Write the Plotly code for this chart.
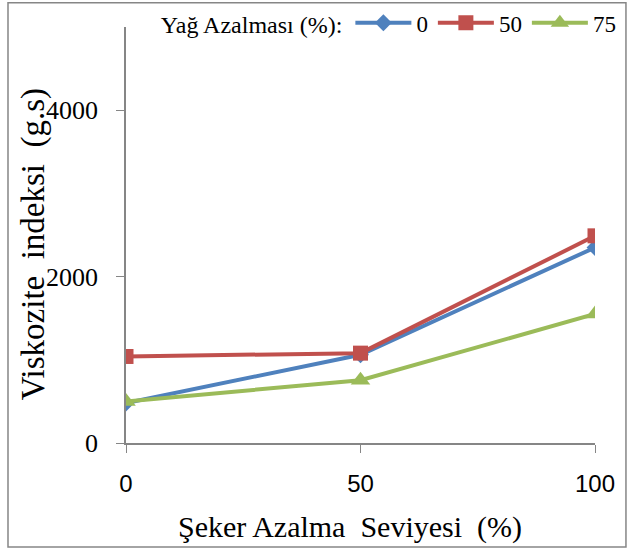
import plotly.graph_objects as go

x_levels = [0, 50, 100]
series_names = ["0", "50", "75"]
blue_vals = [480, 1060, 2350]
red_vals = [1040, 1080, 2490]
green_vals = [500, 755, 1550]
y_ticks = [0, 2000, 4000]

colors = ["#4F81BD", "#C0504D", "#9BBB59"]
symbols = ["diamond", "square", "triangle-up"]
sizes = [13, 15, 17]

fig = go.Figure()
for name, vals, c, s, sz in zip(series_names, [blue_vals, red_vals, green_vals], colors, symbols, sizes):
    fig.add_trace(go.Scatter(
        x=x_levels, y=vals, name=name, mode="lines+markers",
        line=dict(color=c, width=4),
        marker=dict(symbol=s, size=sz, color=c),
    ))

axis_col = "#868686"
fig.update_layout(
    width=627, height=554,
    paper_bgcolor="white", plot_bgcolor="white",
    margin=dict(l=126, r=32, t=27, b=111, autoexpand=False),
    font=dict(family="Liberation Serif", color="black"),
    showlegend=True,
    legend=dict(
        orientation="h", x=0.07, y=1.01, xanchor="left", yanchor="middle",
        title=dict(text="Yağ Azalması (%):", side="left", font=dict(family="Liberation Serif", size=24)),
        font=dict(family="Liberation Serif", size=23),
        bgcolor="rgba(0,0,0,0)", itemwidth=56, tracegroupgap=0,
    ),
    xaxis=dict(
        range=[0, 100], tickvals=x_levels, ticktext=[str(v) for v in x_levels],
        showgrid=False, zeroline=False, showline=True, linecolor=axis_col, linewidth=1.5,
        ticks="outside", ticklen=8, tickcolor=axis_col, ticklabelstandoff=10,
        tickfont=dict(family="Liberation Sans", size=24, color="black"),
    ),
    yaxis=dict(
        range=[0, 5000], tickvals=y_ticks, ticktext=[str(v) for v in y_ticks],
        showgrid=False, zeroline=False, showline=True, linecolor=axis_col, linewidth=1.5,
        ticks="outside", ticklen=8, tickcolor=axis_col, ticklabelstandoff=13,
        tickfont=dict(family="Liberation Serif", size=26, color="black"),
    ),
    annotations=[
        dict(text="Şeker Azalma  Seviyesi  (%)", xref="paper", yref="paper", x=0.4776, y=-0.2019,
             xanchor="center", yanchor="middle", showarrow=False,
             font=dict(family="Liberation Serif", size=30, color="black")),
        dict(text="Viskozite  indeksi  (g.s)", xref="paper", yref="paper", x=-0.198, y=0.478,
             xanchor="center", yanchor="middle", showarrow=False, textangle=-90,
             font=dict(family="Liberation Serif", size=33, color="black")),
    ],
    shapes=[dict(type="rect", xref="paper", yref="paper",
                 x0=-0.2516, x1=1.066, y0=-0.250, y1=1.058,
                 line=dict(color=axis_col, width=1.5), fillcolor="rgba(0,0,0,0)", layer="below")],
)

fig.write_html("out.html", config={"displayModeBar": False},
               post_script="document.body.style.margin='0px';")
